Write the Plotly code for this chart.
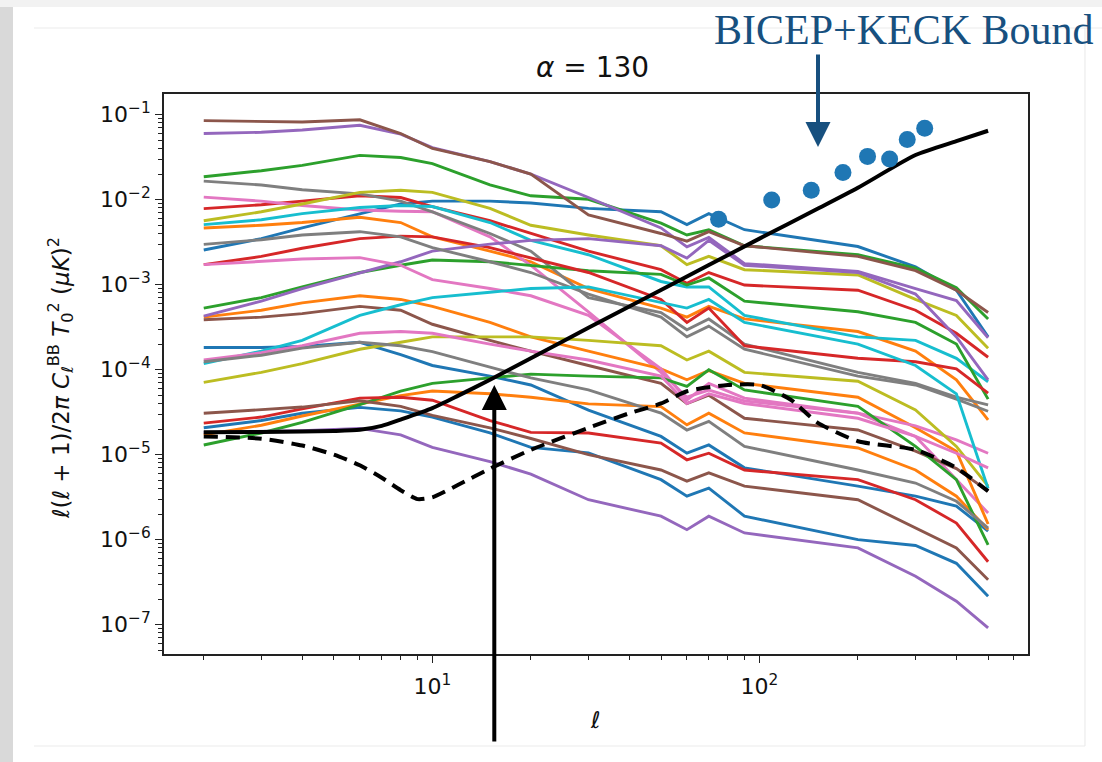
import plotly.graph_objects as go

# ---------------- data ----------------
ell = [2, 3, 4, 6, 8, 10, 15, 20, 30, 50, 60, 70, 90, 200, 300, 400, 500]

blue_1 = [2.56e-3, 3.48e-3, 4.65e-3, 6.85e-3, 8.9e-3, 9.6e-3, 9.6e-3, 9.15e-3, 7.9e-3, 7.2e-3, 5.1e-3, 6.85e-3, 4.43e-3, 2.81e-3, 1.62e-3, 8.6e-4, 2.43e-4]
blue_2 = [1.82e-4, 1.82e-4, 1.875e-4, 2.1e-4, 1.5e-4, 1.12e-4, 8.4e-5, 6.6e-5, 3.35e-5, 1.64e-5, 1.04e-5, 1.3e-5, 7.0e-6, 4.27e-6, 3.25e-6, 2.48e-6, 1.26e-6]
blue_3 = [2.07e-5, 2.52e-5, 3.07e-5, 3.6e-5, 3.27e-5, 2.77e-5, 1.8e-5, 1.22e-5, 1.05e-5, 5.08e-6, 3.25e-6, 4.05e-6, 1.89e-6, 1.0e-6, 8.55e-7, 5.27e-7, 2.16e-7]

orange_1 = [4.65e-3, 5.0e-3, 5.38e-3, 6.2e-3, 5.38e-3, 3.65e-3, 2.48e-3, 1.86e-3, 9.0e-4, 5.3e-4, 4.15e-4, 5.55e-4, 3.95e-4, 2.81e-4, 1.65e-4, 7.6e-5, 2.56e-5]
orange_2 = [4.15e-4, 5.0e-4, 6.1e-4, 7.4e-4, 6.7e-4, 5.55e-4, 3.6e-4, 2.43e-4, 1.65e-4, 1.02e-4, 7.6e-5, 9.75e-5, 6.9e-5, 4.74e-5, 2.07e-5, 1.1e-5, 1.53e-6]
orange_3 = [1.71e-5, 2.22e-5, 2.85e-5, 3.96e-5, 4.95e-5, 5.6e-5, 5.2e-5, 4.74e-5, 3.96e-5, 3.67e-5, 2.24e-5, 3.08e-5, 1.8e-5, 1.2e-5, 6.6e-6, 3.25e-6, 1.31e-6]

green_1 = [1.86e-2, 2.19e-2, 2.53e-2, 3.32e-2, 3.13e-2, 2.66e-2, 1.49e-2, 1.11e-2, 1.01e-2, 5.3e-3, 3.84e-3, 4.43e-3, 2.87e-3, 2.25e-3, 1.56e-3, 9.2e-4, 3.95e-4]
green_2 = [5.3e-4, 7.05e-4, 9.4e-4, 1.39e-3, 1.69e-3, 1.95e-3, 1.86e-3, 1.69e-3, 1.46e-3, 1.32e-3, 9.9e-4, 1.2e-3, 6.4e-4, 4.8e-4, 3.6e-4, 2.0e-4, 4.5e-5]
green_3 = [1.3e-5, 1.8e-5, 2.4e-5, 3.89e-5, 5.6e-5, 6.9e-5, 8.0e-5, 8.85e-5, 8.4e-5, 8.0e-5, 6.37e-5, 9.95e-5, 5.78e-5, 3.7e-5, 1.25e-5, 5.08e-6, 8.7e-7]

red_1 = [7.85e-3, 8.7e-3, 9.6e-3, 1.11e-2, 1.06e-2, 8.3e-3, 5.65e-3, 4.0e-3, 2.48e-3, 1.5e-3, 1.04e-3, 1.39e-3, 9.9e-4, 8.6e-4, 5.0e-4, 2.68e-4, 1.4e-4]
red_2 = [1.72e-3, 2.15e-3, 2.68e-3, 3.48e-3, 3.72e-3, 3.65e-3, 2.73e-3, 2.05e-3, 1.39e-3, 6.7e-4, 3.6e-4, 5.3e-4, 1.91e-4, 1.36e-4, 1.24e-4, 1.02e-4, 5.3e-5]
red_3 = [2.35e-5, 2.77e-5, 3.46e-5, 4.63e-5, 4.74e-5, 4.37e-5, 2.52e-5, 1.83e-5, 1.8e-5, 1.37e-5, 8.7e-6, 1.04e-5, 6.6e-6, 5.08e-6, 2.95e-6, 1.57e-6, 5.5e-7]

purple_1 = [6.0e-2, 6.2e-2, 6.6e-2, 7.5e-2, 5.9e-2, 4.1e-2, 2.8e-2, 2.0e-2, 1.06e-2, 4.65e-3, 2.78e-3, 3.6e-3, 1.77e-3, 1.43e-3, 9.0e-4, 6.5e-4, 2.37e-4]
purple_2 = [4.27e-4, 6.4e-4, 9.0e-4, 1.39e-3, 1.86e-3, 2.48e-3, 3.0e-3, 3.32e-3, 3.48e-3, 2.87e-3, 2.05e-3, 3.32e-3, 1.69e-3, 1.39e-3, 7.75e-4, 2.43e-4, 7.6e-5]
purple_3 = [1.83e-5, 1.87e-5, 1.92e-5, 2.04e-5, 1.71e-5, 1.22e-5, 8.3e-6, 5.9e-6, 2.95e-6, 1.89e-6, 1.31e-6, 1.89e-6, 1.2e-6, 8.0e-7, 3.72e-7, 1.89e-7, 9.15e-8]

brown_1 = [8.5e-2, 8.4e-2, 8.2e-2, 8.7e-2, 6.0e-2, 4.0e-2, 2.8e-2, 2.0e-2, 6.6e-3, 4.0e-3, 3.25e-3, 4.2e-3, 2.87e-3, 2.15e-3, 1.46e-3, 8.6e-4, 4.7e-4]
brown_2 = [3.87e-4, 4.15e-4, 4.56e-4, 5.55e-4, 5.0e-4, 3.42e-4, 2.21e-4, 1.65e-4, 1.12e-4, 6.9e-5, 4.0e-5, 5.0e-5, 2.68e-5, 1.95e-5, 1.1e-5, 6.85e-6, 3.72e-6]
brown_3 = [3.07e-5, 3.35e-5, 3.63e-5, 4.3e-5, 3.7e-5, 2.9e-5, 2.07e-5, 1.55e-5, 1.0e-5, 6.6e-6, 4.88e-6, 6.1e-6, 4.27e-6, 2.95e-6, 1.37e-6, 8.0e-7, 3.38e-7]

pink_1 = [1.07e-2, 9.6e-3, 8.55e-3, 7.55e-3, 7.3e-3, 7.2e-3, 3.65e-3, 1.69e-3, 4.8e-4, 9.3e-5, 4.74e-5, 5.75e-5, 4.3e-5, 3.07e-5, 1.64e-5, 5.08e-6, 2.06e-6]
pink_2 = [1.72e-3, 1.86e-3, 2.0e-3, 2.08e-3, 1.69e-3, 1.145e-3, 9.0e-4, 7.4e-4, 4.35e-4, 1.02e-4, 4.4e-5, 6.9e-5, 4.63e-5, 3.08e-5, 2.18e-5, 1.49e-5, 1.04e-5]
pink_3 = [1.3e-4, 1.58e-4, 1.91e-4, 2.68e-4, 2.81e-4, 2.68e-4, 2.0e-4, 1.65e-4, 1.3e-4, 8.4e-5, 4.0e-5, 5.2e-5, 4.0e-5, 2.68e-5, 1.64e-5, 1.04e-5, 7.0e-6]

gray_1 = [1.65e-2, 1.49e-2, 1.31e-2, 1.17e-2, 9.6e-3, 7.2e-3, 4.0e-3, 2.48e-3, 7.05e-4, 4.7e-4, 2.95e-4, 3.95e-4, 2.0e-4, 9.3e-5, 6.9e-5, 4.74e-5, 3.85e-5]
gray_2 = [2.98e-3, 3.38e-3, 3.84e-3, 4.2e-3, 3.65e-3, 2.73e-3, 1.86e-3, 1.39e-3, 7.75e-4, 4.15e-4, 2.43e-4, 3.25e-4, 1.74e-4, 8.4e-5, 6.6e-5, 4.5e-5, 3.24e-5]
gray_3 = [1.24e-4, 1.48e-4, 1.79e-4, 2.1e-4, 1.91e-4, 1.63e-4, 1.07e-4, 8.0e-5, 5.78e-5, 3.08e-5, 1.95e-5, 2.47e-5, 1.25e-5, 6.6e-6, 4.64e-6, 2.83e-6, 1.37e-6]

olive_1 = [5.65e-3, 7.2e-3, 8.9e-3, 1.22e-2, 1.29e-2, 1.22e-2, 7.9e-3, 5.0e-3, 3.84e-3, 2.87e-3, 1.72e-3, 2.15e-3, 1.5e-3, 1.3e-3, 6.7e-4, 4.35e-4, 1.79e-4]
olive_2 = [7.1e-5, 9.3e-5, 1.18e-4, 1.74e-4, 2.1e-4, 2.43e-4, 2.43e-4, 2.43e-4, 2.21e-4, 1.91e-4, 1.3e-4, 1.65e-4, 9.3e-5, 7.3e-5, 3.35e-5, 1.25e-5, 4.27e-6]

cyan_1 = [5.08e-3, 5.8e-3, 6.85e-3, 8.07e-3, 8.55e-3, 8.3e-3, 5.38e-3, 3.32e-3, 2.25e-3, 1.09e-3, 9.4e-4, 9.4e-4, 4.35e-4, 2.43e-4, 2.21e-4, 1.36e-4, 7.2e-5]
cyan_2 = [1.18e-4, 1.65e-4, 2.21e-4, 4.35e-4, 5.8e-4, 7.05e-4, 8.15e-4, 9.0e-4, 9.4e-4, 6.1e-4, 5.3e-4, 6.7e-4, 3.6e-4, 2.0e-4, 1.12e-4, 5.2e-5, 4.0e-6]

# black solid bound curve
ell_bound = [2, 3, 4, 5, 6, 7, 8, 10, 12, 15, 20, 30, 50, 70, 100, 150, 200, 300, 400, 500]
bound = [1.83e-5, 1.85e-5, 1.87e-5, 1.9e-5, 1.96e-5, 2.18e-5, 2.59e-5, 3.53e-5, 4.95e-5, 7.6e-5, 1.36e-4, 3.11e-4, 8.67e-4, 1.7e-3, 3.48e-3, 7.75e-3, 1.38e-2, 3.35e-2, 4.88e-2, 6.47e-2]

# black dashed curve
ell_dash = [2, 3, 4, 5, 6, 7, 8, 9, 10, 12, 15, 20, 30, 40, 50, 60, 80, 100, 125, 150, 200, 300, 400, 500]
dashed = [1.64e-5, 1.54e-5, 1.28e-5, 1.0e-5, 7.5e-6, 5.36e-6, 3.82e-6, 3.0e-6, 3.15e-6, 4.42e-6, 6.85e-6, 1.14e-5, 2.07e-5, 3.07e-5, 4.0e-5, 5.57e-5, 6.6e-5, 6.6e-5, 4.4e-5, 2.4e-5, 1.44e-5, 1.14e-5, 7.0e-6, 3.72e-6]

# BICEP+KECK points
ell_bk = [75, 109, 144, 180, 214, 250, 283, 320]
bk = [5.9e-3, 9.9e-3, 1.29e-2, 2.09e-2, 3.23e-2, 3.0e-2, 5.1e-2, 6.9e-2]

x_ticks = [10, 100]
x_ticktext = ["10<sup>1</sup>", "10<sup>2</sup>"]
y_ticks = [1e-7, 1e-6, 1e-5, 1e-4, 1e-3, 1e-2, 1e-1]
y_ticktext = ["10<sup>\u22127</sup>", "10<sup>\u22126</sup>", "10<sup>\u22125</sup>",
              "10<sup>\u22124</sup>", "10<sup>\u22123</sup>", "10<sup>\u22122</sup>",
              "10<sup>\u22121</sup>"]

# ---------------- styling ----------------
tab10 = {
    "blue": "#1f77b4", "orange": "#ff7f0e", "green": "#2ca02c", "red": "#d62728",
    "purple": "#9467bd", "brown": "#8c564b", "pink": "#e377c2", "gray": "#7f7f7f",
    "olive": "#bcbd22", "cyan": "#17becf",
}
series = [
    ("blue", blue_1), ("orange", orange_1), ("green", green_1), ("red", red_1),
    ("purple", purple_1), ("brown", brown_1), ("pink", pink_1), ("gray", gray_1),
    ("olive", olive_1), ("cyan", cyan_1),
    ("blue", blue_2), ("orange", orange_2), ("green", green_2), ("red", red_2),
    ("purple", purple_2), ("brown", brown_2), ("pink", pink_2), ("gray", gray_2),
    ("olive", olive_2), ("cyan", cyan_2),
    ("blue", blue_3), ("orange", orange_3), ("green", green_3), ("red", red_3),
    ("purple", purple_3), ("brown", brown_3), ("pink", pink_3), ("gray", gray_3),
]

fig = go.Figure()
for cname, vals in series:
    fig.add_trace(go.Scatter(x=ell, y=vals, mode="lines",
                             line=dict(color=tab10[cname], width=2.9),
                             showlegend=False, hoverinfo="skip"))

fig.add_trace(go.Scatter(x=ell_bound, y=bound, mode="lines",
                         line=dict(color="black", width=4, shape="spline", smoothing=0.6),
                         showlegend=False))
fig.add_trace(go.Scatter(x=ell_dash, y=dashed, mode="lines",
                         line=dict(color="black", width=4, dash="14px,8px", shape="spline", smoothing=0.6),
                         showlegend=False))
fig.add_trace(go.Scatter(x=ell_bk, y=bk, mode="markers",
                         marker=dict(color="#1f77b4", size=17),
                         showlegend=False))

L, R, T, B = 164, 74, 94, 108
W, H = 1102, 762
pw, ph = W - L - R, H - T - B


def px(xp):
    return (xp - L) / pw


def py(yp):
    return (H - B - yp) / ph


minor_x = [m * 10 ** k for k in range(0, 3) for m in range(2, 10) if m * 10 ** k < 700]
minor_y = [m * 10 ** k for k in range(-8, 0) for m in range(2, 10)]

axis_common = dict(type="log", showgrid=False, zeroline=False, showline=True,
                   linecolor="#222", linewidth=1.6, mirror=True,
                   ticks="outside", ticklen=7, tickwidth=1.4, tickcolor="#222",
                   tickfont=dict(family="DejaVu Sans", size=22, color="#111"))

fig.update_layout(
    width=W, height=H,
    margin=dict(l=L, r=R, t=T, b=B),
    paper_bgcolor="white", plot_bgcolor="white",
    xaxis=dict(range=[0.1795, 2.821], tickmode="array", tickvals=x_ticks, ticktext=x_ticktext,
               ticklabelstandoff=5,
               minor=dict(ticks="outside", ticklen=4, tickwidth=1.2, tickcolor="#222",
                          tickmode="array", tickvals=minor_x),
               **axis_common),
    yaxis=dict(range=[-7.345, -0.757], tickmode="array", tickvals=y_ticks, ticktext=y_ticktext,
               minor=dict(ticks="outside", ticklen=4, tickwidth=1.2, tickcolor="#222",
                          tickmode="array", tickvals=minor_y),
               **axis_common),
    showlegend=False,
)

# slide frame decoration
fig.add_shape(type="rect", xref="paper", yref="paper", x0=px(0), x1=px(13), y0=py(H), y1=py(0),
              fillcolor="#d9d9d9", line=dict(width=0), layer="below")
fig.add_shape(type="rect", xref="paper", yref="paper", x0=px(0), x1=px(W), y0=py(7), y1=py(0),
              fillcolor="#f2f2f2", line=dict(width=0), layer="below")
for (xa, ya, xb, yb) in [(34, 28, W, 28), (34, 746, 1085, 746), (1085, 28, 1085, 746)]:
    fig.add_shape(type="line", xref="paper", yref="paper", x0=px(xa), y0=py(ya), x1=px(xb), y1=py(yb),
                  line=dict(color="#ececec", width=1.2), layer="below")

# title
fig.add_annotation(xref="paper", yref="paper", x=px(592), y=py(68), showarrow=False,
                   text="<i>\u03b1</i> = 130", font=dict(family="DejaVu Sans", size=28, color="#111"),
                   xanchor="center", yanchor="middle")
# axis labels
fig.add_annotation(xref="paper", yref="paper", x=px(595), y=py(720), showarrow=False,
                   text="<i>\u2113</i>", font=dict(family="DejaVu Sans", size=23, color="#111"),
                   xanchor="center", yanchor="middle")
fig.add_annotation(xref="paper", yref="paper", x=px(60), y=py(378), showarrow=False, textangle=-90,
                   text="<i>\u2113</i>(<i>\u2113</i> + 1)/2<i>\u03c0</i> <i>C</i><sub><i>\u2113</i></sub><sup>BB</sup> "
                        "<i>T</i><sub>0</sub><sup>2</sup> (<i>\u03bcK</i>)<sup>2</sup>",
                   font=dict(family="DejaVu Sans", size=23, color="#111"),
                   xanchor="center", yanchor="middle")

# BICEP+KECK annotation
bk_color = "#17507f"
fig.add_annotation(xref="paper", yref="paper", x=px(904), y=py(30), showarrow=False,
                   text="BICEP+KECK Bound", font=dict(family="Liberation Serif", size=42, color=bk_color),
                   xanchor="center", yanchor="middle")
fig.add_annotation(xref="paper", yref="paper", x=px(818), y=py(147), ax=0, ay=-94,
                   text="", showarrow=True, arrowhead=2, arrowsize=1.25, arrowwidth=4,
                   arrowcolor=bk_color, standoff=0)
# black arrow from bottom
fig.add_annotation(xref="paper", yref="paper", x=px(494.3), y=py(385), ax=0, ay=358,
                   text="", showarrow=True, arrowhead=2, arrowsize=1.25, arrowwidth=4,
                   arrowcolor="black", standoff=0)

fig.write_html("out.html")
